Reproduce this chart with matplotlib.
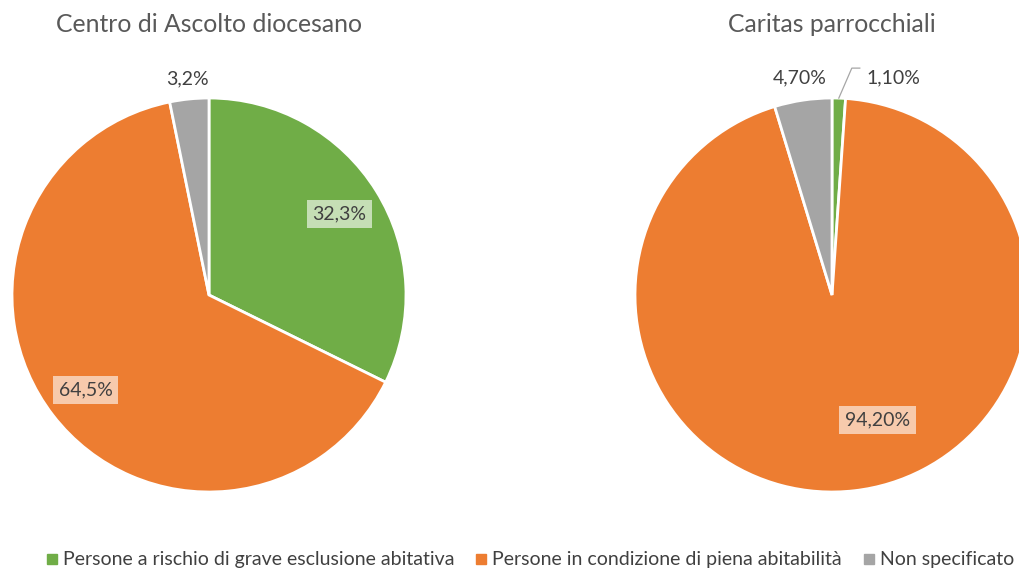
import numpy as np
import matplotlib
matplotlib.use("Agg")
import matplotlib.pyplot as plt
from matplotlib.lines import Line2D

# ---- data ----
categories = ["Persone a rischio di grave esclusione abitativa",
              "Persone in condizione di piena abitabilità",
              "Non specificato"]
titles = ["Centro di Ascolto diocesano", "Caritas parrocchiali"]
values_centro = [32.3, 64.5, 3.2]
values_caritas = [1.1, 94.2, 4.7]
labels_centro = ["32,3%", "64,5%", "3,2%"]
labels_caritas = ["1,10%", "94,20%", "4,70%"]

# ---- style ----
colors = ["#70AD47", "#ED7D31", "#A5A5A5"]
W, H = 1019, 570
plt.rcParams['font.family'] = ['Lato', 'DejaVu Sans']
fig = plt.figure(figsize=(W / 100, H / 100), dpi=100)
ax = fig.add_axes([0, 0, 1, 1])

R = 197
centers = [(209, H - 295), (832, H - 295)]
datasets = [values_centro, values_caritas]
labelsets = [labels_centro, labels_caritas]
# per-label placement (angle deg or None for mid-angle, radial fraction, boxed)
placements = [
    [(None, 0.78, True), (None, 0.79, True), (None, 1.105, False)],
    [(None, None, False), (-70, 0.675, True), (None, 1.115, False)],
]
LFS = 14

for k in range(2):
    cx, cy = centers[k]
    wedges, _ = ax.pie(datasets[k], colors=colors, startangle=90, counterclock=False,
                       radius=R, center=(cx, cy),
                       wedgeprops=dict(edgecolor="white", linewidth=2))
    ax.text(cx, H - 25, titles[k], ha="center", va="center", fontsize=17.8, color="#595959")
    for i, w in enumerate(wedges):
        ang_mid = np.deg2rad((w.theta1 + w.theta2) / 2)
        pa, pr, boxed = placements[k][i]
        if pr is None:
            continue
        a = np.deg2rad(pa) if pa is not None else ang_mid
        x = cx + pr * R * np.cos(a)
        y = cy + pr * R * np.sin(a)
        bbox = dict(boxstyle="square,pad=0.3", fc="white", ec="none", alpha=0.6) if boxed else None
        ax.text(x, y, labelsets[k][i], ha="center", va="center", fontsize=LFS,
                color="#404040", bbox=bbox)
    if k == 1:
        # small slice label with leader line
        w = wedges[0]
        a = np.deg2rad((w.theta1 + w.theta2) / 2)
        x0, y0 = cx + R * 1.0 * np.cos(a), cy + R * 1.0 * np.sin(a)
        x1, y1 = x0 + 13, y0 + 30
        ax.plot([x0, x1, x1 + 8], [y0, y1, y1], color="#A6A6A6", lw=0.9)
        ax.text(x1 + 42, y0 + 20, labelsets[k][0], ha="center", va="center",
                fontsize=LFS, color="#404040")

ax.set_xlim(0, W)
ax.set_ylim(0, H)
ax.set_aspect("equal")
ax.axis("off")

handles = [Line2D([], [], marker="s", ls="none", markersize=7.5, markerfacecolor=c,
                  markeredgecolor=c) for c in colors]
fig.legend(handles, categories, loc="center", bbox_to_anchor=(528 / W, 1 - 560 / H),
           ncol=3, frameon=False, fontsize=14, handletextpad=0.05, columnspacing=0.9,
           handlelength=1.0, labelcolor="#404040")

fig.savefig("out.png", dpi=100)
